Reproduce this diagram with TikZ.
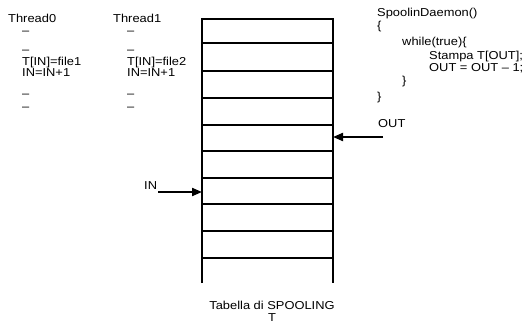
\documentclass[tikz,border=0pt]{standalone}
\usepackage{fontspec}
\setmainfont{Liberation Sans}[FakeStretch=1.12]
\usetikzlibrary{arrows.meta}
\begin{document}
\begin{tikzpicture}[x=1pt,y=-1pt,
  txt/.style={anchor=base west,inner sep=0pt,font=\fontsize{11.5}{14}\selectfont},
  ctxt/.style={anchor=base,inner sep=0pt,font=\fontsize{11.5}{14}\selectfont},
  tabline/.style={line width=2pt},
  ptr/.style={line width=2pt,-{Triangle[length=10pt,width=8pt]}}]
\useasboundingbox (0,0) rectangle (526,323);

% Thread0
\node[txt] (t0) at (8,23) {Thread0};
\node[txt] (t0a) at (22,35) {–};
\node[txt] (t0b) at (22,53.5) {–};
\node[txt] (t0c) at (22,65.5) {T[IN]=file1};
\node[txt] (t0d) at (22,77) {IN=IN+1};
\node[txt] (t0e) at (22,98) {–};
\node[txt] (t0f) at (22,111) {–};

% Thread1
\node[txt] (t1) at (113,23) {Thread1};
\node[txt] (t1a) at (127,35) {–};
\node[txt] (t1b) at (127,53.5) {–};
\node[txt] (t1c) at (127,65.5) {T[IN]=file2};
\node[txt] (t1d) at (127,77) {IN=IN+1};
\node[txt] (t1e) at (127,98) {–};
\node[txt] (t1f) at (127,111) {–};

% Spooler daemon
\node[txt] (d0) at (377,17) {SpoolinDaemon()};
\node[txt] (d1) at (377,30) {\{};
\node[txt] (d2) at (402,46) {while(true)\{};
\node[txt] (d3) at (429,60) {Stampa T[OUT];};
\node[txt] (d4) at (429,71.5) {OUT = OUT – 1;};
\node[txt] (d5) at (402,85) {\}};
\node[txt] (d6) at (377,101) {\}};

% Spooling table
\draw[tabline] (202,283) -- (202,19) -- (333,19) -- (333,283);
\foreach \yy in {43.5,71,98,125,151,177.5,204,231,258}
  \draw[tabline] (201,\yy) -- (333,\yy);
\node[ctxt] (cap1) at (272,309) {Tabella di SPOOLING};
\node[ctxt] (cap2) at (272,321) {T};

% Pointers
\node[txt] (outl) at (378,128) {OUT};
\coordinate (outs) at (383,137);
\coordinate (outt) at (333,137);
\draw[ptr] (outs) -- (outt);

\node[txt] (inl) at (144,189) {IN};
\coordinate (ins) at (158,192);
\coordinate (int) at (202,192);
\draw[ptr] (ins) -- (int);
\end{tikzpicture}
\end{document}
